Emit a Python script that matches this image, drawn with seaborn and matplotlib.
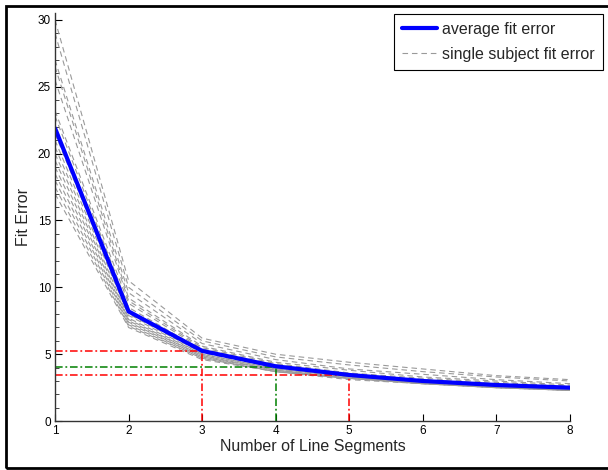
import matplotlib
matplotlib.use('Agg')
import matplotlib.pyplot as plt
from matplotlib.patches import Rectangle
from matplotlib.lines import Line2D
import seaborn as sns
import pandas as pd
import numpy as np

# data
segments = [1, 2, 3, 4, 5, 6, 7, 8]
average_error = [21.9, 8.2, 5.25, 4.1, 3.45, 3.0, 2.7, 2.5]
subject_errors = [
    [30.0, 10.5, 6.2, 5.0, 4.4, 3.9, 3.4, 3.1],
    [29.0, 10.0, 6.0, 4.8, 4.2, 3.7, 3.3, 3.0],
    [27.0, 9.6, 5.8, 4.6, 3.9, 3.5, 3.1, 2.8],
    [26.5, 9.2, 5.6, 4.4, 3.8, 3.3, 3.0, 2.7],
    [25.5, 9.0, 5.5, 4.3, 3.6, 3.2, 2.9, 2.6],
    [23.2, 8.8, 5.4, 4.2, 3.5, 3.1, 2.8, 2.6],
    [22.8, 8.5, 5.3, 4.1, 3.5, 3.0, 2.7, 2.5],
    [22.0, 8.2, 5.2, 4.0, 3.4, 3.0, 2.7, 2.5],
    [21.5, 8.0, 5.1, 4.0, 3.4, 3.0, 2.7, 2.4],
    [21.0, 7.9, 5.0, 3.9, 3.3, 2.9, 2.6, 2.4],
    [20.5, 7.7, 5.0, 3.9, 3.3, 2.9, 2.6, 2.4],
    [20.0, 7.6, 4.9, 3.8, 3.3, 2.9, 2.6, 2.4],
    [19.5, 7.5, 4.9, 3.8, 3.2, 2.9, 2.6, 2.3],
    [19.0, 7.4, 4.8, 3.8, 3.2, 2.8, 2.6, 2.3],
    [18.5, 7.3, 4.8, 3.7, 3.2, 2.8, 2.5, 2.3],
    [18.0, 7.2, 4.7, 3.7, 3.2, 2.8, 2.5, 2.3],
    [17.5, 7.1, 4.7, 3.7, 3.2, 2.8, 2.5, 2.3],
    [17.0, 7.0, 4.6, 3.7, 3.1, 2.8, 2.5, 2.3],
]
# cut-off guides (segment count, error level)
cut_x = [3, 4, 5]
cut_y = [5.25, 4.05, 3.42]
cut_colors = ['#ff0000', '#008000', '#ff0000']

sns.set_theme(style='white')
plt.rcParams['font.family'] = ['Liberation Sans', 'DejaVu Sans']

fig = plt.figure(figsize=(6.08, 4.70), dpi=100)
ax = fig.add_axes([0.0905, 0.104, 0.847, 0.868])

dash = (0, (5, 3.5))
dashdot = (0, (5, 1.8, 1.2, 1.8))

# single subjects
rows = []
for i, vals in enumerate(subject_errors):
    for s, v in zip(segments, vals):
        rows.append({'subject': i, 'segments': s, 'error': v})
df = pd.DataFrame(rows)
sns.lineplot(data=df, x='segments', y='error', units='subject', estimator=None,
             color='#9a9a9a', linewidth=0.8, linestyle=dash, ax=ax, legend=False)

# cut-off guides
for x, y, c in zip(cut_x, cut_y, cut_colors):
    ax.plot([segments[0], x], [y, y], color=c, linestyle=dashdot, linewidth=1.1)
    ax.plot([x, x], [0, y], color=c, linestyle=dashdot, linewidth=1.1)

# average
sns.lineplot(x=segments, y=average_error, color='#0000ff', linewidth=3, ax=ax)

ax.set_xlim(1, 8)
ax.set_ylim(0, 30.5)
ax.set_xticks(segments)
ax.set_yticks([0, 5, 10, 15, 20, 25, 30])
ax.set_yticks(np.arange(0, 31, 1), minor=True)
ax.tick_params(axis='both', which='major', direction='in', length=5, width=0.8,
               labelsize=8.5, colors='black', bottom=True, left=True, pad=3)
ax.tick_params(axis='y', which='minor', direction='in', length=3, width=0.6, left=True)
for side in ['top', 'right']:
    ax.spines[side].set_visible(False)
for side in ['left', 'bottom']:
    ax.spines[side].set_color('#333333')
    ax.spines[side].set_linewidth(1.0)
ax.set_xlabel('Number of Line Segments', fontsize=11.5, labelpad=1)
ax.set_ylabel('Fit Error', fontsize=11.5, labelpad=5)

handles = [Line2D([], [], color='#0000ff', linewidth=3),
           Line2D([], [], color='#9a9a9a', linewidth=0.8, linestyle=dash)]
leg = ax.legend(handles, ['average fit error', 'single subject fit error'],
                loc='upper right', bbox_to_anchor=(1.064, 0.998), borderaxespad=0,
                fontsize=11.5, frameon=True, fancybox=False, framealpha=1,
                borderpad=0.5, handlelength=2.2, handletextpad=0.35,
                labelspacing=0.6)
leg.get_frame().set_edgecolor('black')
leg.get_frame().set_linewidth(0.8)

# outer frame
fig.patches.append(Rectangle((0.01, 0.004), 1.2, 0.983, transform=fig.transFigure,
                             fill=False, edgecolor='black', linewidth=2))

fig.savefig('out.png', dpi=100)
